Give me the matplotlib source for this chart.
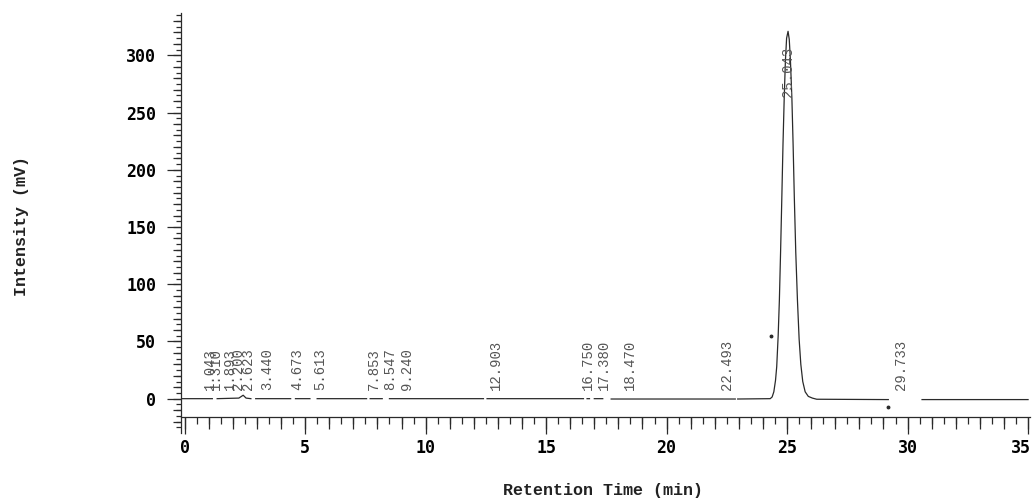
import numpy as np
import matplotlib
matplotlib.use("Agg")
import matplotlib.pyplot as plt
import matplotlib.transforms as mtransforms
from matplotlib.ticker import FixedLocator

nan = np.nan

# ---- data ----
peak_times = [1.043, 1.310, 1.893, 2.200, 2.623, 3.440, 4.673, 5.613, 7.853,
              8.547, 9.240, 12.903, 16.750, 17.380, 18.470, 22.493, 29.733]
peak_labels = ["1.043", "1.310", "1.893", "2.200", "2.623", "3.440", "4.673",
               "5.613", "7.853", "8.547", "9.240", "12.903", "16.750",
               "17.380", "18.470", "22.493", "29.733"]
main_peak_time = 25.043
main_peak_label = "25.043"

x_tick_values = [0, 5, 10, 15, 20, 25, 30, 35]
y_tick_values = [0, 50, 100, 150, 200, 250, 300]

# chromatogram trace (min, mV); NaN = break in the plotted trace
trace_t = [-0.15, 1.15, nan,
           1.35, 2.25, 2.43, 2.55, 2.75, nan,
           2.95, 4.40, nan,
           4.60, 5.20, nan,
           5.50, 7.55, nan,
           7.70, 8.20, nan,
           8.50, 12.40, nan,
           12.55, 16.55, nan,
           16.70, 16.80, nan,
           17.00, 17.35, nan,
           17.70, 22.85, nan,
           22.95, 24.30, 24.38, 24.45, 24.52, 24.57, 24.63, 24.68, 24.73,
           24.78, 24.83, 24.88, 24.93, 24.98, 25.04, 25.09, 25.14, 25.20,
           25.25, 25.30, 25.36, 25.43, 25.50, 25.57, 25.65, 25.75, 25.88,
           26.05, 26.23, 29.20, nan,
           30.60, 35.00]
trace_v = [0.0, 0.0, nan,
           0.0, 0.5, 3.0, 0.5, 0.0, nan,
           0.0, 0.0, nan,
           0.0, 0.0, nan,
           0.0, 0.0, nan,
           0.0, 0.0, nan,
           0.0, 0.0, nan,
           0.0, 0.0, nan,
           0.0, 0.0, nan,
           0.0, 0.0, nan,
           -0.3, -0.3, nan,
           -0.3, 0.0, 1.5, 6.0, 16.0, 28.0, 55.0, 86.0, 128.0,
           174.0, 222.0, 262.0, 295.0, 315.0, 321.0, 314.0, 295.0, 262.0,
           222.0, 176.0, 128.0, 86.0, 52.0, 30.0, 15.0, 6.0, 2.0,
           0.5, -0.5, -0.8, nan,
           -0.8, -0.8]

stray_t = [24.35, 29.20]
stray_v = [55.0, -7.0]

# ---- figure ----
fig = plt.figure(figsize=(10.33, 5.0), dpi=100)
ax = fig.add_axes([181 / 1033, 67 / 500, (1030 - 181) / 1033, (433 - 13) / 500])

ink = "#2a2a2a"
ax.plot(trace_t, trace_v, color=ink, lw=0.9)
ax.plot(stray_t, stray_v, ls="none", marker="o", ms=1.8, color=ink)

ax.set_xlim(-0.15, 35.08)
ax.set_ylim(-30, 337)

for s in ("top", "right"):
    ax.spines[s].set_visible(False)
ax.spines["bottom"].set_position(("data", -16))
for s in ("bottom", "left"):
    ax.spines[s].set_color(ink)
    ax.spines[s].set_linewidth(0.9)

tick_font = dict(family="DejaVu Sans Mono", weight="bold", size=12)

# x ticks
ax.set_xticks(x_tick_values)
ax.set_xticklabels([str(v) for v in x_tick_values], **tick_font)
ax.xaxis.set_minor_locator(FixedLocator(np.arange(0, 35.01, 0.5)))
ax.tick_params(axis="x", which="major", length=12, width=0.9, color=ink, pad=4)
ax.tick_params(axis="x", which="minor", length=5, width=0.9, color=ink)
# keep the last label inside the figure
last = ax.get_xticklabels()[-1]
last.set_transform(last.get_transform() +
                   mtransforms.ScaledTranslation(-7 / 100, 0, fig.dpi_scale_trans))

secx = ax.secondary_xaxis(14 / 367)
secx.set_xticks(np.arange(0, 36, 1))
secx.tick_params(axis="x", length=8.5, width=0.9, color=ink, labelbottom=False)
secx.spines["bottom"].set_visible(False)

# y ticks
ax.set_yticks(y_tick_values)
ax.set_yticklabels([str(v) for v in y_tick_values], **tick_font)
ax.yaxis.set_minor_locator(FixedLocator(np.arange(-25, 336, 5)))
ax.tick_params(axis="y", which="major", length=10, width=0.9, color=ink, pad=8)
ax.tick_params(axis="y", which="minor", length=3.5, width=0.9, color=ink)

secy = ax.secondary_yaxis("left")
secy.set_yticks(np.arange(-20, 336, 10))
secy.tick_params(axis="y", length=6, width=0.9, color=ink, labelleft=False)
secy.spines["left"].set_visible(False)

# peak labels
lab_font = dict(family="Liberation Mono", size=10, color="#555555")
for t, s in zip(peak_times, peak_labels):
    ax.text(t, 8, s, rotation=90, ha="center", va="bottom", **lab_font)
ax.text(main_peak_time, 264, main_peak_label, rotation=90, ha="center",
        va="bottom", **lab_font)

# axis titles
title_font = dict(family="Liberation Mono", weight="bold", size=12, color="#222222")
fig.text(603 / 1033, 1 - 490 / 500, "Retention Time (min)", ha="center",
         va="center", **title_font)
fig.text(22 / 1033, 1 - 226 / 500, "Intensity (mV)", ha="center", va="center",
         rotation=90, **title_font)

fig.savefig("out.png", dpi=100)
